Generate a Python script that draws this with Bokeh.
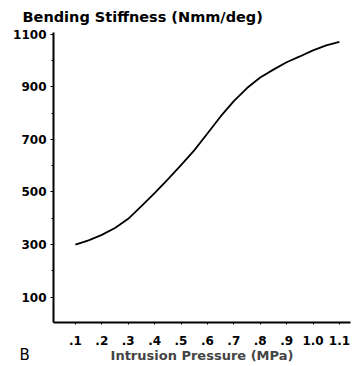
from bokeh.plotting import figure
from bokeh.models import FixedTicker, Range1d, Title
from bokeh.embed import file_html
from bokeh.resources import INLINE

pressure = [0.10, 0.15, 0.20, 0.25, 0.30, 0.35, 0.40, 0.45, 0.50, 0.55, 0.60,
            0.65, 0.70, 0.75, 0.80, 0.85, 0.90, 0.95, 1.00, 1.05, 1.10]
stiffness = [300, 316, 337, 363, 398, 446, 496, 548, 602, 658, 722,
             787, 845, 895, 935, 965, 993, 1015, 1038, 1057, 1070]

x_ticks = [0.1, 0.2, 0.3, 0.4, 0.5, 0.6, 0.7, 0.8, 0.9, 1.0, 1.1]
x_tick_labels = [".1", ".2", ".3", ".4", ".5", ".6", ".7", ".8", ".9", "1.0", "1.1"]
y_ticks = [100, 300, 500, 700, 900, 1100]
y_minor = [200, 400, 600, 800, 1000]

FONT = "DejaVu Sans"

p = figure(width=360, height=366, output_backend="svg", toolbar_location=None,
           x_range=Range1d(0.017, 1.142), y_range=Range1d(4, 1106),
           min_border_left=53, min_border_right=10, min_border_top=32, min_border_bottom=44)
p.outline_line_color = None
p.xgrid.visible = False
p.ygrid.visible = False

p.line(pressure, stiffness, line_color="black", line_width=1.8)

for ax in (p.xaxis, p.yaxis):
    ax.axis_line_color = "black"
    ax.axis_line_width = 2
    ax.major_tick_line_color = "black"
    ax.minor_tick_line_color = "black"
    ax.major_tick_line_width = 1
    ax.minor_tick_line_width = 1
    ax.major_tick_out = 3
    ax.major_tick_in = 0
    ax.minor_tick_out = 2
    ax.minor_tick_in = 0
    ax.major_label_text_font = FONT
    ax.major_label_text_font_style = "bold"
    ax.major_label_text_font_size = "12px"
    ax.major_label_text_color = "black"

p.xaxis.ticker = FixedTicker(ticks=x_ticks, minor_ticks=[])
p.xaxis.major_label_overrides = {t: l for t, l in zip(x_ticks, x_tick_labels)}
p.xaxis.major_label_standoff = 11
p.xaxis.major_tick_out = 2
p.yaxis.ticker = FixedTicker(ticks=y_ticks, minor_ticks=y_minor)
p.yaxis.major_label_standoff = 4

p.xaxis.axis_label = "Intrusion Pressure (MPa)"
p.xaxis.axis_label_text_font = FONT
p.xaxis.axis_label_text_font_style = "bold"
p.xaxis.axis_label_text_font_size = "13px"
p.xaxis.axis_label_standoff = 0

p.title.text = "Bending Stiffness (Nmm/deg)"
p.title.align = "left"
p.title.vertical_align = "top"
p.title.offset = -31
p.title.standoff = 12
p.title.text_font = FONT
p.title.text_font_style = "bold"
p.title.text_font_size = "14.5px"
p.title.text_color = "black"

p.add_layout(Title(text="B", align="left", vertical_align="top", offset=-34, standoff=-40,
                   text_font=FONT, text_font_style="normal", text_font_size="15px",
                   text_color="black"), "below")

open("out.html", "w").write(file_html(p, INLINE))
